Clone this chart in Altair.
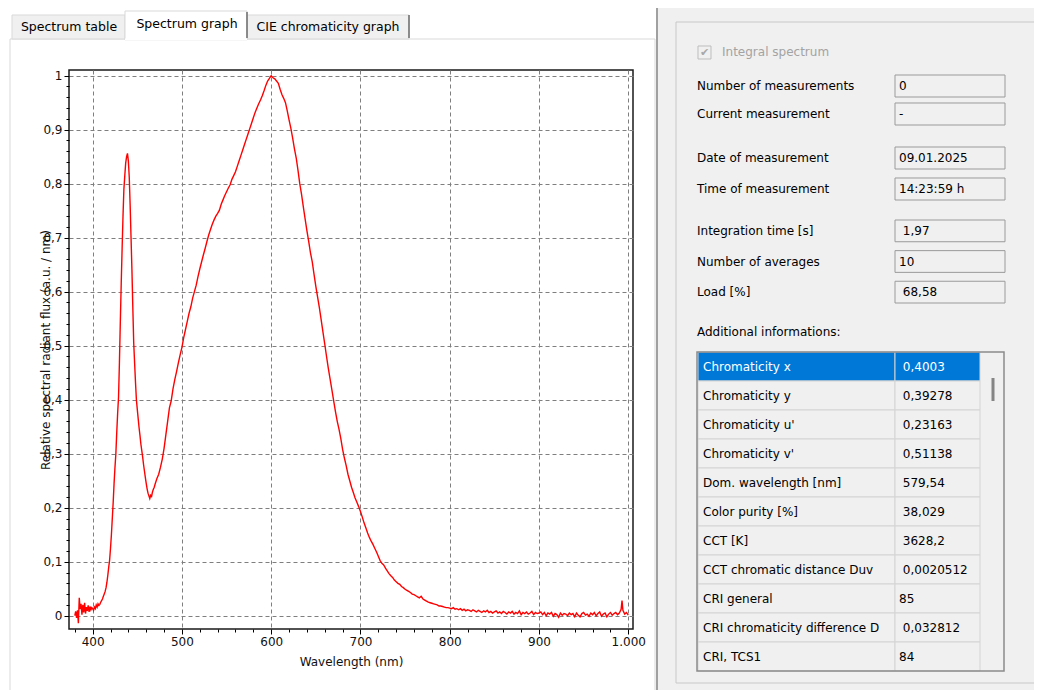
import altair as alt
import pandas as pd

FONT = "DejaVu Sans"
SP = "\u200b\u00a0"  # leading blank kept visible in the UI fields

# ---------------- data ----------------
wavelength = (
    list(range(380, 471))
    + list(range(472, 802, 2))
    + list(range(802, 992, 2)) + [992, 993, 994, 996, 998, 1000]
)
flux = [
    # 380-412
    0.000, 0.008, -0.004, 0.010, -0.014, 0.033, 0.012, 0.022, 0.002, 0.020,
    0.006, 0.024, 0.004, 0.016, 0.009, 0.019, 0.007, 0.017, 0.011, 0.015,
    0.013, 0.010, 0.016, 0.013, 0.020, 0.016, 0.022, 0.019, 0.021, 0.025,
    0.028, 0.031, 0.036,
    # 413-470
    0.040, 0.045, 0.052, 0.062, 0.075, 0.090, 0.103, 0.125, 0.150, 0.180,
    0.210, 0.245, 0.275, 0.300, 0.340, 0.375, 0.405, 0.470, 0.545, 0.615,
    0.680, 0.740, 0.790, 0.815, 0.838, 0.850, 0.856, 0.842, 0.812, 0.760,
    0.700, 0.640, 0.570, 0.505, 0.468, 0.432, 0.400, 0.382, 0.365, 0.348,
    0.334, 0.318, 0.306, 0.294, 0.280, 0.268, 0.256, 0.245, 0.235, 0.227,
    0.222, 0.217, 0.223, 0.221, 0.229, 0.234, 0.238, 0.244,
    # 472-800 step 2
    0.254, 0.262, 0.275, 0.290, 0.310, 0.335, 0.360, 0.385, 0.398, 0.420,
    0.437, 0.452, 0.468, 0.483, 0.497, 0.515, 0.530, 0.545, 0.560, 0.572,
    0.588, 0.600, 0.612, 0.628, 0.642, 0.655, 0.668, 0.680, 0.693, 0.705,
    0.715, 0.725, 0.733, 0.740, 0.745, 0.751, 0.762, 0.770, 0.778, 0.785,
    0.792, 0.798, 0.808, 0.815, 0.822, 0.832, 0.842, 0.852, 0.862, 0.872,
    0.882, 0.892, 0.902, 0.912, 0.922, 0.932, 0.940, 0.948, 0.955, 0.963,
    0.972, 0.982, 0.990, 0.995, 1.000, 0.996, 0.994, 0.990, 0.986, 0.975,
    0.965, 0.958, 0.950, 0.935, 0.918, 0.903, 0.885, 0.865, 0.848, 0.825,
    0.800, 0.780, 0.757, 0.735, 0.713, 0.693, 0.672, 0.655, 0.632, 0.610,
    0.590, 0.570, 0.548, 0.525, 0.503, 0.480, 0.458, 0.438, 0.418, 0.398,
    0.378, 0.360, 0.345, 0.328, 0.308, 0.292, 0.278, 0.262, 0.250, 0.238,
    0.228, 0.218, 0.210, 0.202, 0.193, 0.183, 0.172, 0.163, 0.153, 0.145,
    0.138, 0.132, 0.125, 0.118, 0.110, 0.102, 0.097, 0.094, 0.088, 0.083,
    0.078, 0.074, 0.071, 0.066, 0.063, 0.060, 0.058, 0.054, 0.052, 0.049,
    0.047, 0.045, 0.043, 0.040, 0.039, 0.037, 0.035, 0.033, 0.036, 0.031,
    0.029, 0.027, 0.025, 0.024, 0.023, 0.022, 0.021, 0.020, 0.018, 0.018,
    0.017, 0.016, 0.015, 0.015, 0.014,
    # 802-990 step 2
    0.013, 0.015, 0.012, 0.013, 0.011, 0.013, 0.010, 0.012, 0.009, 0.011,
    0.010, 0.008, 0.011, 0.009, 0.007, 0.010, 0.008, 0.006, 0.009, 0.007,
    0.010, 0.006, 0.008, 0.005, 0.007, 0.009, 0.005, 0.007, 0.004, 0.008,
    0.006, 0.003, 0.007, 0.005, 0.008, 0.003, 0.006, 0.004, 0.009, 0.002,
    0.006, 0.004, 0.007, 0.003, 0.005, 0.008, 0.002, 0.006, 0.004, 0.005,
    0.007, 0.002, 0.006, 0.000, 0.005, 0.003, 0.006, -0.001, 0.004, 0.002,
    -0.003, 0.005, 0.001, 0.004, 0.003, 0.000, 0.005, 0.002, 0.004, -0.002,
    0.005, 0.001, -0.002, 0.004, 0.006, 0.001, 0.003, -0.001, 0.005, 0.002,
    0.006, 0.000, 0.004, 0.007, -0.001, 0.003, 0.005, -0.002, 0.003, 0.006,
    0.001, 0.004, 0.006, 0.002, 0.005,
    # 992-1000
    0.012, 0.028, 0.010, 0.003, 0.006, 0.001,
]

x_major = [400, 500, 600, 700, 800, 900, 1000]
x_minor = [v for v in range(380, 1001, 20) if v % 100 != 0]
y_major = [0, 0.1, 0.2, 0.3, 0.4, 0.5, 0.6, 0.7, 0.8, 0.9, 1.0]
y_minor = [round(0.02 * k, 2) for k in range(51) if k % 5 != 0]

tab_labels = ["Spectrum table", "Spectrum graph", "CIE chromaticity graph"]
check_label = "Integral spectrum"
field_labels = ["Number of measurements", "Current measurement",
                "Date of measurement", "Time of measurement",
                "Integration time [s]", "Number of averages", "Load [%]"]
field_values = ["0", "-", "09.01.2025", "14:23:59 h",
                SP + "1,97", "10", SP + "68,58"]
additional_label = "Additional informations:"
table_names = ["Chromaticity x", "Chromaticity y", "Chromaticity u'",
               "Chromaticity v'", "Dom. wavelength [nm]", "Color purity [%]",
               "CCT [K]", "CCT chromatic distance Duv", "CRI general",
               "CRI chromaticity difference D", "CRI, TCS1"]
table_values = [SP + "0,4003", SP + "0,39278", SP + "0,23163", SP + "0,51138",
                SP + "579,54", SP + "38,029", SP + "3628,2", SP + "0,0020512",
                "85", SP + "0,032812", "84"]

# ---------------- layout helpers (page pixels -> plot-relative) ----------------
OX, OY = 69, 70
W, H = 564, 559
one = pd.DataFrame({"k": [0]})


def rect(x1, y1, x2, y2, **kw):
    return alt.Chart(one).mark_rect(**kw).encode(
        x=alt.value(x1 - OX), x2=alt.value(x2 - OX),
        y=alt.value(y1 - OY), y2=alt.value(y2 - OY))


def rule(x1, y1, x2, y2, **kw):
    return alt.Chart(one).mark_rule(**kw).encode(
        x=alt.value(x1 - OX), x2=alt.value(x2 - OX),
        y=alt.value(y1 - OY), y2=alt.value(y2 - OY))


def label(txt, x, y, **kw):
    opts = dict(font=FONT, fontSize=12, color="#000", align="left", baseline="middle")
    opts.update(kw)
    return alt.Chart(one).mark_text(text=txt, **opts).encode(
        x=alt.value(x - OX), y=alt.value(y - OY))


# ---------------- window chrome ----------------
chrome = [
    rect(658, 0, 1060, 720, fill="#f0f0f0"),
    rule(657, 0, 657, 720, stroke="#a0a0a0", strokeWidth=2),
    rect(10, 39, 655, 697, fill="none", stroke="#d9d9d9", strokeWidth=1),
    rect(12, 15, 125, 39, fill="#f0f0f0", stroke="#d9d9d9", strokeWidth=1),
    rect(247, 15, 409, 39, fill="#f0f0f0", stroke="#d9d9d9", strokeWidth=1),
    rect(125, 11, 247, 40, fill="#ffffff", stroke="#d9d9d9", strokeWidth=1),
    rule(125, 39.5, 247, 39.5, stroke="#ffffff", strokeWidth=2),
    rule(247, 12, 247, 38, stroke="#6d6d6d", strokeWidth=1.5),
    rule(409, 15, 409, 38, stroke="#6d6d6d", strokeWidth=1.5),
    label(tab_labels[0], 69, 27, align="center", fontSize=12.5),
    label(tab_labels[1], 187, 24, align="center", fontSize=12.5),
    label(tab_labels[2], 328, 27, align="center", fontSize=12.5),
    rect(676, 22, 1060, 683, fill="none", stroke="#c8c8c8", strokeWidth=1),
    rect(698, 46, 711, 59, fill="#f0f0f0", stroke="#bdbdbd", strokeWidth=1),
    label("\u2714", 704.5, 53, align="center", fontSize=11, color="#a8a8a8"),
    label(check_label, 722, 52, color="#a3a3a3"),
    label(additional_label, 697, 332),
]

# ---------------- spectrum ----------------
spec_df = pd.DataFrame({"wl": wavelength, "flux": flux})
X_SCALE = alt.Scale(domain=[373.5, 1005.3], nice=False, zero=False)
Y_SCALE = alt.Scale(domain=[-0.0246, 1.0105], nice=False, zero=False)

minor = alt.Chart(spec_df).mark_line(opacity=0).encode(
    x=alt.X("wl:Q", scale=X_SCALE, axis=alt.Axis(
        values=x_minor, orient="bottom", grid=False, domain=False, labels=False,
        tickSize=3, tickColor="#000", title=None)),
    y=alt.Y("flux:Q", scale=Y_SCALE, axis=alt.Axis(
        values=y_minor, orient="left", grid=False, domain=False, labels=False,
        tickSize=3, tickColor="#000", title=None)),
)

spectrum = alt.Chart(spec_df).mark_line(color="#ff0000", strokeWidth=1.4).encode(
    x=alt.X("wl:Q", scale=X_SCALE, axis=alt.Axis(
        values=x_major, orient="bottom", grid=True, gridDash=[4, 3],
        gridColor="#7f7f7f", gridWidth=1, domain=False, tickSize=5,
        tickColor="#000", labelExpr="replace(format(datum.value, ',d'), ',', '.')",
        labelFont=FONT, labelFontSize=12, labelColor="#111", labelPadding=2,
        labelFlush=False, labelOverlap=False,
        title="Wavelength (nm)", titleFont=FONT, titleFontSize=12,
        titleFontWeight="normal", titleColor="#111", titleY=32,
        titleBaseline="middle")),
    y=alt.Y("flux:Q", scale=Y_SCALE, axis=alt.Axis(
        values=y_major, orient="left", grid=True, gridDash=[4, 3],
        gridColor="#7f7f7f", gridWidth=1, domain=False, tickSize=5,
        tickColor="#000", labelExpr="replace(format(datum.value, '.1~f'), '.', ',')",
        labelFont=FONT, labelFontSize=12, labelColor="#111", labelPadding=2,
        labelFlush=False, labelOverlap=False,
        title="Relative spectral radiant flux (a.u. / nm)", titleFont=FONT,
        titleFontSize=12, titleFontWeight="normal", titleColor="#111",
        titleX=-24, titleBaseline="middle")),
)


# ---------------- info fields ----------------
def field_group(labels, values, y0, y1, pad):
    df = pd.DataFrame({"label": labels, "value": values})
    ys = alt.Y("label:N", axis=None, scale=alt.Scale(
        type="band", domain=labels, range=[y0 - OY, y1 - OY],
        paddingInner=pad, paddingOuter=0))
    base = alt.Chart(df)
    box = base.mark_rect(fill="#f0f0f0", stroke="#9a9a9a", strokeWidth=1).encode(
        y=ys, x=alt.value(895 - OX), x2=alt.value(1005 - OX))
    lab = base.mark_text(align="left", baseline="middle", font=FONT,
                         fontSize=12, color="#000").encode(
        y=ys, x=alt.value(697 - OX), text="label:N")
    val = base.mark_text(align="left", baseline="middle", font=FONT,
                         fontSize=12, color="#000").encode(
        y=ys, x=alt.value(899 - OX), text="value:N")
    return alt.layer(box, lab, val)


g1 = field_group(field_labels[0:2], field_values[0:2], 75, 125, 0.214)
g2 = field_group(field_labels[2:4], field_values[2:4], 147, 200, 0.29)
g3 = field_group(field_labels[4:7], field_values[4:7], 220, 303, 0.29)

# ---------------- table ----------------
tdf = pd.DataFrame({"name": table_names, "value": table_values})
ty = alt.Y("name:N", axis=None, scale=alt.Scale(
    type="band", domain=table_names, range=[352 - OY, 352 - OY + 29 * 11],
    paddingInner=0, paddingOuter=0))
sel = alt.datum.name == table_names[0]
tb = alt.Chart(tdf)
cell1 = tb.mark_rect(stroke="#d4d4d4", strokeWidth=1).encode(
    y=ty, x=alt.value(698 - OX), x2=alt.value(895 - OX),
    fill=alt.condition(sel, alt.value("#0078d7"), alt.value("#f0f0f0")))
cell2 = tb.mark_rect(stroke="#d4d4d4", strokeWidth=1).encode(
    y=ty, x=alt.value(895 - OX), x2=alt.value(980 - OX),
    fill=alt.condition(sel, alt.value("#0078d7"), alt.value("#f0f0f0")))
tname = tb.mark_text(align="left", baseline="middle", font=FONT, fontSize=12).encode(
    y=ty, x=alt.value(703 - OX), text="name:N",
    color=alt.condition(sel, alt.value("#ffffff"), alt.value("#000000")))
tval = tb.mark_text(align="left", baseline="middle", font=FONT, fontSize=12).encode(
    y=ty, x=alt.value(899 - OX), text="value:N",
    color=alt.condition(sel, alt.value("#ffffff"), alt.value("#000000")))
table = alt.layer(cell1, cell2, tname, tval)

table_frame = [
    rect(697, 352, 1004, 671, fill="none", stroke="#8a8a8a", strokeWidth=1.5),
    rule(993, 378, 993, 401, stroke="#858585", strokeWidth=3),
]

chart = alt.layer(
    *chrome, minor, spectrum, g1, g2, g3, table, *table_frame
).resolve_scale(
    x="independent", y="independent"
).resolve_axis(
    x="independent", y="independent"
).properties(
    width=W, height=H,
    padding={"left": 61, "top": 62, "right": 401, "bottom": 61},
    autosize=alt.AutoSizeParams(type="none"),
    background="#ffffff",
).configure(font=FONT).configure_view(stroke="#1a1a1a", strokeWidth=1.5)

chart.save("out.html", embed_options={"renderer": "svg", "actions": False})
